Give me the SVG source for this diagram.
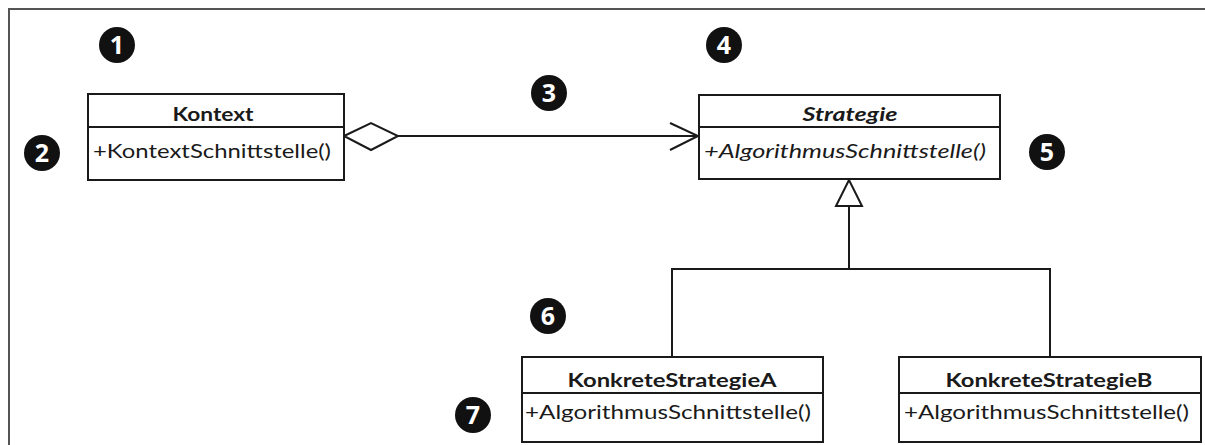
<svg xmlns="http://www.w3.org/2000/svg" width="1205" height="445" viewBox="0 0 1205 445">
  <style>
    .box { fill: #ffffff; stroke: #1a1a1a; stroke-width: 2; }
    .sep { stroke: #1a1a1a; stroke-width: 2; }
    .title { font-family: Lato, "Open Sans", sans-serif; font-size: 19px; font-weight: bold; fill: #1a1a1a; text-anchor: middle; }
    .op { font-family: Lato, "Open Sans", sans-serif; font-size: 19px; fill: #1a1a1a; }
    .abstract { font-style: italic; }
    .wire { fill: none; stroke: #1a1a1a; stroke-width: 2; }
    .badge circle { fill: #111111; }
    .badge text { font-family: "Open Sans", "DejaVu Sans", sans-serif; font-size: 25px; font-weight: bold; fill: #ffffff; text-anchor: middle; }
  </style>

  <rect width="1205" height="445" fill="#ffffff"/>

  <!-- frame -->
  <path d="M9,445 V9 H1205" fill="none" stroke="#555555" stroke-width="2"/>

  <!-- connectors -->
  <g id="connectors">
    <!-- aggregation: Kontext -> Strategie -->
    <polygon points="344,136 371,123 398,136 371,150" fill="#ffffff" stroke="#1a1a1a" stroke-width="2"/>
    <line class="wire" x1="398" y1="136" x2="698" y2="136"/>
    <polyline class="wire" points="670,123 698,136 670,150"/>
    <!-- generalisation: concrete strategies -> Strategie -->
    <polyline class="wire" points="672,357 672,269 1050,269 1050,357"/>
    <line class="wire" x1="849" y1="269" x2="849" y2="206"/>
    <polygon points="849,180 836,206 862,206" fill="#ffffff" stroke="#1a1a1a" stroke-width="2"/>
  </g>

  <!-- classes -->
  <g id="kontext">
    <rect class="box" x="88" y="94" width="256" height="86"/>
    <line class="sep" x1="88" y1="127" x2="344" y2="127"/>
    <text class="title" x="213" y="121" textLength="81" lengthAdjust="spacingAndGlyphs">Kontext</text>
    <text class="op" x="93" y="158" textLength="238" lengthAdjust="spacingAndGlyphs">+KontextSchnittstelle()</text>
  </g>

  <g id="strategie">
    <rect class="box" x="699" y="95" width="301" height="84"/>
    <line class="sep" x1="699" y1="127" x2="1000" y2="127"/>
    <text class="title abstract" x="850" y="121" textLength="95" lengthAdjust="spacingAndGlyphs">Strategie</text>
    <text class="op abstract" x="704" y="158" textLength="282" lengthAdjust="spacingAndGlyphs">+AlgorithmusSchnittstelle()</text>
  </g>

  <g id="konkrete-strategie-a">
    <rect class="box" x="522" y="357" width="301" height="85"/>
    <line class="sep" x1="522" y1="393" x2="823" y2="393"/>
    <text class="title" x="672" y="387" textLength="209" lengthAdjust="spacingAndGlyphs">KonkreteStrategieA</text>
    <text class="op" x="525" y="419" textLength="286" lengthAdjust="spacingAndGlyphs">+AlgorithmusSchnittstelle()</text>
  </g>

  <g id="konkrete-strategie-b">
    <rect class="box" x="899" y="357" width="302" height="85"/>
    <line class="sep" x1="899" y1="393" x2="1201" y2="393"/>
    <text class="title" x="1049" y="387" textLength="207" lengthAdjust="spacingAndGlyphs">KonkreteStrategieB</text>
    <text class="op" x="904" y="419" textLength="285" lengthAdjust="spacingAndGlyphs">+AlgorithmusSchnittstelle()</text>
  </g>

  <!-- numbered callouts -->
  <g id="badge-1" class="badge"><circle cx="117" cy="45" r="18"/><text x="117" y="54">1</text></g>
  <g id="badge-2" class="badge"><circle cx="42" cy="153" r="18"/><text x="42" y="162">2</text></g>
  <g id="badge-3" class="badge"><circle cx="549" cy="93" r="18"/><text x="549" y="102">3</text></g>
  <g id="badge-4" class="badge"><circle cx="724" cy="45" r="18"/><text x="724" y="54">4</text></g>
  <g id="badge-5" class="badge"><circle cx="1047" cy="152" r="18"/><text x="1047" y="161">5</text></g>
  <g id="badge-6" class="badge"><circle cx="548" cy="316" r="18"/><text x="548" y="325">6</text></g>
  <g id="badge-7" class="badge"><circle cx="473" cy="415" r="18"/><text x="473" y="424">7</text></g>
</svg>
